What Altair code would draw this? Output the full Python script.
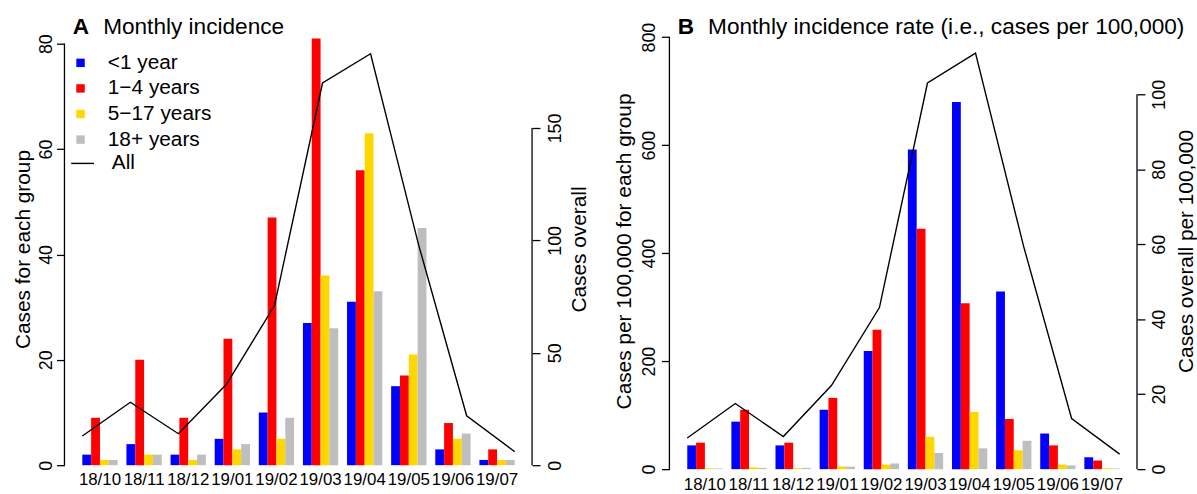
import altair as alt
import pandas as pd

months = ["18/10", "18/11", "18/12", "19/01", "19/02", "19/03", "19/04", "19/05", "19/06", "19/07"]
groups = ["<1 year", "1\u22124 years", "5\u221217 years", "18+ years"]
colors = ["#0000FF", "#FF0000", "#FFD700", "#BEBEBE"]

# Panel A: monthly incidence (cases)
a_lt1 = [2, 4, 2, 5, 10, 27, 31, 15, 3, 1]
a_1to4 = [9, 20, 9, 24, 47, 81, 56, 17, 8, 3]
a_5to17 = [1, 2, 1, 3, 5, 36, 63, 21, 5, 1]
a_18plus = [1, 2, 2, 4, 9, 26, 33, 45, 6, 1]
a_all = [13, 28, 14, 36, 71, 170, 183, 98, 22, 6]

# Panel B: monthly incidence rate (cases per 100,000)
b_lt1 = [44, 88, 44, 110, 219, 592, 680, 329, 66, 22]
b_1to4 = [49, 110, 49, 132, 258, 445, 307, 93, 44, 16]
b_5to17 = [1.7, 3.4, 1.7, 5, 8.4, 60, 106, 35, 8.4, 1.7]
b_18plus = [1.2, 2.3, 2.3, 4.7, 10.5, 30, 38.5, 52.5, 7, 1.2]
b_all = [8.3, 17.5, 8.7, 22.3, 43.1, 103, 111, 59.5, 13.5, 4.0]

a_left_ticks = [0, 20, 40, 60, 80]
a_right_ticks = [0, 50, 100, 150]
b_left_ticks = [0, 200, 400, 600, 800]
b_right_ticks = [0, 20, 40, 60, 80, 100]

W = 436


def long_df(series):
    rows = []
    for g, vals in zip(groups, series):
        for m, v in zip(months, vals):
            rows.append({"month": m, "group": g, "value": v})
    return pd.DataFrame(rows)


def panel(letter, title, series, totals, left_max, right_max, left_ticks, right_ticks,
          left_title, right_title, H, xpad, lpad, ltp, rpad, rtp):
    bars_df = long_df(series)
    line_df = pd.DataFrame({"idx": list(range(len(months))), "total": totals,
                            "series": ["All"] * len(months)})
    yl = alt.Scale(domain=[0, left_max], nice=False, zero=True)
    yr = alt.Scale(domain=[0, right_max], nice=False, zero=True)

    bars = alt.Chart(bars_df).mark_bar().encode(
        x=alt.X("month:N", sort=months,
                scale=alt.Scale(paddingInner=0.2, paddingOuter=0),
                axis=alt.Axis(title=None, labelAngle=0, ticks=False, tickSize=0, domain=False,
                              labelFontSize=17, labelPadding=xpad, labelBaseline="middle",
                              labelOverlap=False, labelColor="black", labelFlush=False)),
        xOffset=alt.XOffset("group:N", sort=groups,
                            scale=alt.Scale(paddingInner=0, paddingOuter=0)),
        y=alt.Y("value:Q", scale=yl,
                axis=alt.Axis(orient="left", offset=18, domain=False, tickSize=8, tickWidth=1.3,
                              tickColor="black", values=left_ticks, labelAngle=270,
                              labelAlign="center", labelBaseline="middle", labelFontSize=18,
                              labelPadding=lpad, labelColor="black", labelFlush=False,
                              title=left_title, titleFontSize=21, titleFontWeight="normal",
                              titleAngle=270, titleBaseline="bottom", titlePadding=ltp,
                              titleColor="black", grid=False)),
        color=alt.Color("group:N", sort=groups,
                        scale=alt.Scale(domain=groups, range=colors),
                        legend=alt.Legend(title=None, orient="none", legendX=-12.3, legendY=19.8,
                                          labelFontSize=21, labelColor="black",
                                          symbolType="square", symbolSize=72,
                                          symbolStrokeWidth=0, labelOffset=17,
                                          rowPadding=3.8, padding=0)),
    )
    lrule = alt.Chart(pd.DataFrame({"value": [left_ticks[0]], "value2": [left_ticks[-1]]})).mark_rule(
        color="black", strokeWidth=1.3).encode(
        x=alt.value(-18), y=alt.Y("value:Q", scale=yl), y2="value2:Q")
    t_letter = alt.Chart(pd.DataFrame({"t": [letter]})).mark_text(
        align="left", baseline="middle", fontSize=22.8, fontWeight="bold", color="black").encode(
        x=alt.value(-9.6), y=alt.value(-6), text="t:N")
    t_title = alt.Chart(pd.DataFrame({"t": [title]})).mark_text(
        align="left", baseline="middle", fontSize=22.8, color="black").encode(
        x=alt.value(21), y=alt.value(-6), text="t:N")

    line = alt.Chart(line_df).mark_line(strokeWidth=1.4).encode(
        x=alt.X("idx:Q", scale=alt.Scale(domain=[0, len(months) - 1], nice=False, zero=False),
                axis=None),
        y=alt.Y("total:Q", scale=yr,
                axis=alt.Axis(orient="right", offset=17.5, domain=False, tickSize=8, tickWidth=1.3,
                              tickColor="black", values=right_ticks, labelAngle=270,
                              labelAlign="center", labelBaseline="middle", labelFontSize=18,
                              labelPadding=rpad, labelColor="black", labelFlush=False,
                              title=right_title, titleFontSize=21, titleFontWeight="normal",
                              titleAngle=270, titleBaseline="top", titlePadding=rtp,
                              titleColor="black", grid=False)),
        stroke=alt.Stroke("series:N", scale=alt.Scale(domain=["All"], range=["black"]),
                          legend=alt.Legend(title=None, orient="none", legendX=-12.2, legendY=119.2,
                                            labelFontSize=21, labelColor="black",
                                            symbolType="stroke", symbolSize=529,
                                            symbolStrokeWidth=1.4, labelOffset=17, padding=0)),
    )
    rrule = alt.Chart(pd.DataFrame({"total": [right_ticks[0]], "total2": [right_ticks[-1]]})).mark_rule(
        color="black", strokeWidth=1.3).encode(
        x=alt.value(W + 17.5), y=alt.Y("total:Q", scale=yr), y2="total2:Q")

    return alt.layer(
        alt.layer(bars, lrule, t_letter, t_title),
        alt.layer(line, rrule),
    ).resolve_scale(x="independent", y="independent").properties(width=W, height=H)


HA = 436
HB = 440
chart_a = panel("A", "Monthly incidence",
                [a_lt1, a_1to4, a_5to17, a_18plus], a_all,
                HA / 5.3125, HA / 2.267, a_left_ticks, a_right_ticks,
                "Cases for each group", "Cases overall", HA,
                14.5, 10, 4.2, 16, 3.7)
chart_b = panel("B", "Monthly incidence rate (i.e., cases per 100,000)",
                [b_lt1, b_1to4, b_5to17, b_18plus], b_all,
                HB / 0.5445, HB / 3.78, b_left_ticks, b_right_ticks,
                "Cases per 100,000 for each group", "Cases overall per 100,000", HB,
                15.5, 12, 6.2, 15, 6.7)

chart = alt.hconcat(chart_a, chart_b, spacing=23).configure(
    padding={"left": 12, "top": 14, "right": 0, "bottom": 0},
    font="Liberation Sans",
    background="white",
).configure_view(stroke=None)

chart.save("out.html", embed_options={"renderer": "svg", "actions": False})
